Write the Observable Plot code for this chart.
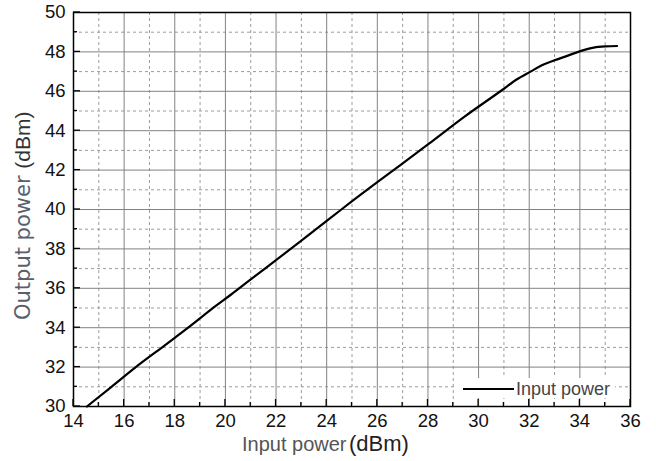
<!DOCTYPE html>
<html>
<head>
<meta charset="utf-8">
<script src="https://cdn.jsdelivr.net/npm/d3@7"></script>
<script src="https://cdn.jsdelivr.net/npm/@observablehq/plot@0.6"></script>
<style>
  html, body { margin: 0; padding: 0; background: #fff; }
  #chart { width: 656px; height: 461px; }
</style>
</head>
<body>
<div id="chart"></div>
<script>
// Data
const inputPower = [14.53, 15.5, 16.46, 17.58, 18.63, 19.49, 20.2, 21.0, 22.05, 23.0, 23.9, 24.58, 26.08, 26.91, 28.0, 29.42, 31.0, 31.5, 32.05, 32.5, 32.97, 33.5, 34.02, 34.55, 35.0, 35.47];
const outputPower = [30.0, 31.0, 32.0, 33.08, 34.1, 34.98, 35.66, 36.45, 37.48, 38.42, 39.32, 40.0, 41.46, 42.25, 43.3, 44.69, 46.13, 46.6, 47.0, 47.32, 47.56, 47.8, 48.04, 48.22, 48.28, 48.3];
const xMajor = [14, 16, 18, 20, 22, 24, 26, 28, 30, 32, 34, 36];
const xMinor = [15, 17, 19, 21, 23, 25, 27, 29, 31, 33, 35];
const yMajor = [30, 32, 34, 36, 38, 40, 42, 44, 46, 48, 50];
const yMinor = [31, 33, 35, 37, 39, 41, 43, 45, 47, 49];
const seriesName = "Input power";
const xTitle = "Input power";
const yTitle = "Output power";
const unit = "(dBm)";

const data = inputPower.map((x, i) => ({x, y: outputPower[i]}));
const FONT = "'Liberation Sans', Arial, sans-serif";

const plot = Plot.plot({
  width: 656,
  height: 461,
  marginLeft: 73,
  marginRight: 26,
  marginTop: 12,
  marginBottom: 55,
  style: {fontFamily: FONT, fontSize: "18.5px", color: "#111", background: "#fff"},
  x: {domain: [14, 36], label: null},
  y: {domain: [30, 50], label: null},
  marks: [
    Plot.ruleX(xMinor, {stroke: "#9c9c9c", strokeWidth: 1, strokeDasharray: "3,3", strokeOpacity: 1}),
    Plot.ruleY(yMinor, {stroke: "#9c9c9c", strokeWidth: 1, strokeDasharray: "3,3", strokeOpacity: 1}),
    Plot.ruleX(xMajor, {stroke: "#828282", strokeWidth: 1, strokeOpacity: 1}),
    Plot.ruleY(yMajor, {stroke: "#828282", strokeWidth: 1, strokeOpacity: 1}),
    Plot.line(data, {x: "x", y: "y", curve: "monotone-x", stroke: "#000", strokeWidth: 2.2}),
    Plot.axisX(xMajor, {tickSize: 0, tickPadding: 7, fill: "#111"}),
    Plot.axisY(yMajor, {tickSize: 0, tickPadding: 8, fill: "#111"}),
    Plot.frame({stroke: "#000", strokeWidth: 1.5})
  ]
});
document.getElementById("chart").appendChild(plot);

const sx = plot.scale("x"), sy = plot.scale("y");
const svg = d3.select(plot);
const x0 = sx.apply(14), y0 = sy.apply(30);
const g = svg.append("g").attr("stroke", "#000").attr("stroke-width", 1.3);
xMajor.forEach(v => g.append("line").attr("x1", sx.apply(v)).attr("x2", sx.apply(v)).attr("y1", y0).attr("y2", y0 - 7));
xMinor.forEach(v => g.append("line").attr("x1", sx.apply(v)).attr("x2", sx.apply(v)).attr("y1", y0).attr("y2", y0 - 4));
yMajor.forEach(v => g.append("line").attr("y1", sy.apply(v)).attr("y2", sy.apply(v)).attr("x1", x0).attr("x2", x0 + 7));
yMinor.forEach(v => g.append("line").attr("y1", sy.apply(v)).attr("y2", sy.apply(v)).attr("x1", x0).attr("x2", x0 + 4));

// Legend (inside, bottom right)
const lg = svg.append("g");
lg.append("rect").attr("x", 457).attr("y", 378).attr("width", 158).attr("height", 20).attr("fill", "#fff");
lg.append("line").attr("x1", 463).attr("x2", 514).attr("y1", 389).attr("y2", 389).attr("stroke", "#000").attr("stroke-width", 2);
lg.append("text").attr("x", 516).attr("y", 395).attr("fill", "#444").attr("text-anchor", "start")
  .attr("font-family", FONT).attr("font-size", 18).text(seriesName);

// X axis title
svg.append("text").attr("x", 242).attr("y", 451).attr("fill", "#555").attr("text-anchor", "start")
  .attr("font-family", FONT).attr("font-size", 20).text(xTitle);
svg.append("text").attr("x", 349).attr("y", 451).attr("fill", "#222").attr("text-anchor", "start")
  .attr("font-family", FONT).attr("font-size", 22).text(unit);

// Y axis title
const yt = svg.append("text").attr("transform", "translate(30,320) rotate(-90)")
  .attr("text-anchor", "start").attr("font-size", 21);
yt.append("tspan").attr("fill", "#5a5f6e").attr("font-family", "'DejaVu Sans', sans-serif").text(yTitle + " ");
yt.append("tspan").attr("fill", "#333").attr("font-family", FONT).text(unit);
</script>
</body>
</html>
